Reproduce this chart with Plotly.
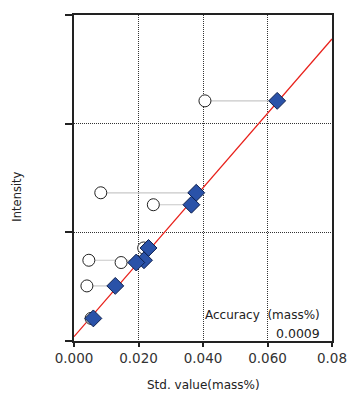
import plotly.graph_objects as go

# Data
std_value = [0.063, 0.0379, 0.0364, 0.0231, 0.0217, 0.0193, 0.0128, 0.0060]     # corrected (diamonds)
raw_value = [0.0406, 0.0083, 0.0246, 0.0216, 0.0046, 0.0146, 0.0040, 0.0053]    # uncorrected (circles)
intensity = [2.21, 1.364, 1.254, 0.856, 0.743, 0.722, 0.507, 0.208]
fit_intercept = 0.04
fit_slope = 34.25
fit_x = [0.0, 0.08]
x_ticks = [0.0, 0.02, 0.04, 0.06, 0.08]
x_ticklabels = ["0.000", "0.020", "0.040", "0.060", "0.08"]
y_ticks = [0, 1, 2, 3]
accuracy_label = "Accuracy  (mass%)"
accuracy_value = "0.0009"

fit_y = [fit_intercept + fit_slope * x for x in fit_x]

cx, cy = [], []
for r, s, y in zip(raw_value, std_value, intensity):
    cx += [r, s, None]
    cy += [y, y, None]

FONT = "DejaVu Sans"

fig = go.Figure()
fig.add_trace(go.Scatter(x=cx, y=cy, mode="lines",
                         line=dict(color="#c8c8c8", width=1.2), hoverinfo="skip"))
fig.add_trace(go.Scatter(x=fit_x, y=fit_y, mode="lines",
                         line=dict(color="#e8201a", width=1.3)))
fig.add_trace(go.Scatter(x=raw_value, y=intensity, mode="markers",
                         marker=dict(symbol="circle", size=12, color="white",
                                     line=dict(color="#222222", width=1))))
fig.add_trace(go.Scatter(x=std_value, y=intensity, mode="markers",
                         marker=dict(symbol="diamond", size=13, color="#2a52a8",
                                     line=dict(color="#0d1f4d", width=1))))

fig.update_layout(
    width=359, height=403,
    margin=dict(l=74, r=19, t=15, b=62),
    paper_bgcolor="white", plot_bgcolor="white",
    showlegend=False,
    font=dict(family=FONT, color="#222222"),
    xaxis=dict(range=[0, 0.08], tickvals=x_ticks, ticktext=x_ticklabels,
               showgrid=True, gridcolor="#333333", griddash="1px,1px", gridwidth=1,
               showline=True, linecolor="#222222", linewidth=2, mirror=True,
               ticks="outside", ticklen=4, tickcolor="#222222", tickwidth=1.5,
               tickfont=dict(size=13.5, family=FONT, color="#333333"),
               zeroline=False, fixedrange=True),
    yaxis=dict(range=[0, 3], tickvals=y_ticks, showticklabels=False,
               showgrid=True, gridcolor="#333333", griddash="1px,1px", gridwidth=1,
               showline=True, linecolor="#222222", linewidth=2, mirror=True,
               ticks="outside", ticklen=7, tickcolor="#222222", tickwidth=1.5,
               zeroline=False, fixedrange=True),
    annotations=[
        dict(text=accuracy_label, x=0.0768, y=0.24, xref="x", yref="y",
             xanchor="right", yanchor="middle", showarrow=False,
             font=dict(size=12, family=FONT, color="#222222"), bgcolor="rgba(0,0,0,0)"),
        dict(text=accuracy_value, x=0.0768, y=0.073, xref="x", yref="y",
             xanchor="right", yanchor="middle", showarrow=False,
             font=dict(size=12.5, family=FONT, color="#222222")),
        dict(text="Std. value(mass%)", x=0.5, y=-0.135, xref="paper", yref="paper",
             xanchor="center", yanchor="middle", showarrow=False,
             font=dict(size=12, family=FONT, color="#222222")),
        dict(text="Intensity", x=-0.222, y=0.442, xref="paper", yref="paper",
             xanchor="center", yanchor="middle", showarrow=False, textangle=-90,
             font=dict(size=11.5, family=FONT, color="#222222")),
    ],
)

fig.write_html("out.html")
